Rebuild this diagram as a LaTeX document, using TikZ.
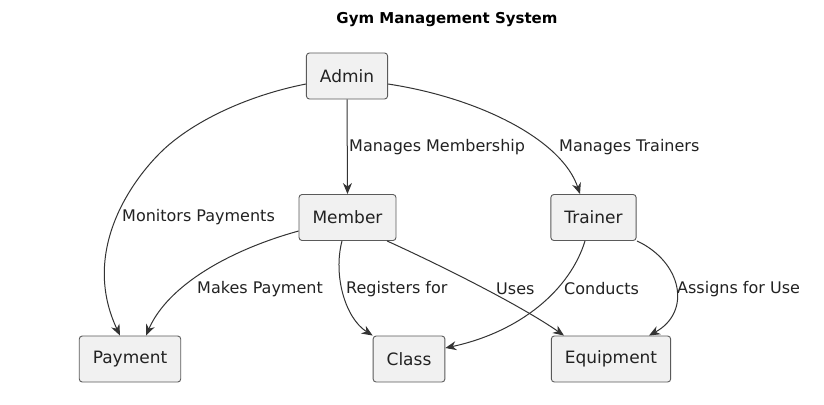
\documentclass[tikz,border=0pt]{standalone}
\usepackage{fontspec}
\setmainfont{DejaVu Sans}
\usetikzlibrary{arrows.meta}
\definecolor{boxfill}{HTML}{F1F1F1}
\definecolor{boxline}{HTML}{5A5A5A}
\definecolor{edgecol}{HTML}{333333}
\definecolor{txtcol}{HTML}{222222}
\begin{document}
\begin{tikzpicture}[x=1pt,y=-1pt,
  entity/.style={draw=boxline, fill=boxfill, line width=0.9pt, rounded corners=3pt,
    minimum height=46pt, inner xsep=13.5pt, inner ysep=0pt,
    font=\fontsize{17}{20}\selectfont, text=txtcol},
  rel/.style={draw=edgecol, line width=1pt,
    -{Stealth[length=11pt,width=9pt,inset=3.5pt]}},
  lbl/.style={font=\fontsize{16}{19}\selectfont, text=txtcol, anchor=west, inner sep=0pt}]
\useasboundingbox (0,0) rectangle (824,404);
\fill[white] (0,0) rectangle (824,404);

\node[font=\fontsize{15}{18}\selectfont\bfseries, text=black] (title) at (447,20) {Gym Management System};

\node[entity] (admin) at (347,76) {Admin};
\node[entity] (member) at (347.5,217.5) {Member};
\node[entity] (trainer) at (593.5,217.5) {Trainer};
\node[entity] (payment) at (130,359) {Payment};
\node[entity] (class) at (409,359) {Class};
\node[entity] (equip) at (611,359) {Equipment};

% Admin -> Payment
\coordinate (ap1) at (160,153);
\draw[rel] (admin.west |- 0,84) .. controls (245,96) and (190,123) .. (ap1)
  .. controls (127,186) and (82,255) .. (payment.north -| 120,0);
\node[lbl] (l1) at (122,217) {Monitors Payments};

% Admin -> Member
\draw[rel] (admin.south) -- (member.north);
\node[lbl] (l2) at (349,147) {Manages Membership};

% Admin -> Trainer
\draw[rel] (admin.east |- 0,84) .. controls (480,98) and (562,140) .. (trainer.north -| 580,0);
\node[lbl] (l3) at (559,147) {Manages Trainers};

% Member -> Payment
\draw[rel] (member.west |- 0,231) .. controls (230,250) and (168,285) .. (payment.north -| 146,0);
\node[lbl] (l4) at (197,289) {Makes Payment};

% Member -> Class
\draw[rel] (member.south -| 342,0) .. controls (333,275) and (345,318) .. (class.north west);
\node[lbl] (l5) at (346,289) {Registers for};

% Member -> Equipment
\draw[rel] (member.south -| 387,0) .. controls (440,265) and (520,305) .. (equip.north -| 564,0);
\node[lbl] (l6) at (496,289) {Uses};

% Trainer -> Class
\draw[rel] (trainer.south -| 585,0) .. controls (570,290) and (520,332) .. (class.east |- 0,348);
\node[lbl] (l7) at (564,289) {Conducts};

% Trainer -> Equipment
\draw[rel] (trainer.south -| 637,0) .. controls (682,262) and (692,312) .. (equip.north -| 649,0);
\node[lbl] (l8) at (677,289) {Assigns for Use};
\end{tikzpicture}
\end{document}
